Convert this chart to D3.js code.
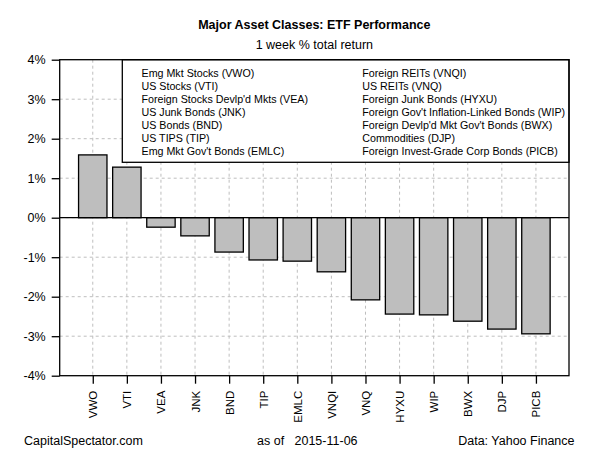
<!DOCTYPE html>
<html>
<head>
<meta charset="utf-8">
<script src="https://cdn.jsdelivr.net/npm/d3@7"></script>
<style>
  body { margin: 0; background: #fff; }
  text { font-family: Arial, "Liberation Sans", sans-serif; fill: #000; }
</style>
</head>
<body>
<script>
// tickers and 1 week % total return
var tickers = ["VWO", "VTI", "VEA", "JNK", "BND", "TIP", "EMLC",
               "VNQI", "VNQ", "HYXU", "WIP", "BWX", "DJP", "PICB"]
var returns = [1.59, 1.28, -0.24, -0.46, -0.87, -1.07, -1.10,
               -1.37, -2.08, -2.44, -2.46, -2.62, -2.82, -2.94]
var yTicks = [-4, -3, -2, -1, 0, 1, 2, 3, 4]
var legendLeft = ["Emg Mkt Stocks (VWO)", "US Stocks (VTI)", "Foreign Stocks Devlp'd Mkts (VEA)",
                  "US Junk Bonds (JNK)", "US Bonds (BND)", "US TIPS (TIP)", "Emg Mkt Gov't Bonds (EMLC)"]
var legendRight = ["Foreign REITs (VNQI)", "US REITs (VNQ)", "Foreign Junk Bonds (HYXU)",
                   "Foreign Gov't Inflation-Linked Bonds (WIP)", "Foreign Devlp'd Mkt Gov't Bonds (BWX)",
                   "Commodities (DJP)", "Foreign Invest-Grade Corp Bonds (PICB)"]

var W = 600, H = 450
// plot box (window.top is reserved, so no bare "top")
var plotL = 59.7, plotR = 569, plotT = 59.7, plotB = 375.7

var svg = d3.select("body").append("svg")
    .attr("width", W)
    .attr("height", H)

// R barplot style coordinates: bar i spans [0.2+1.2i, 1.2(i+1)]
var n = tickers.length
var x = d3.scaleLinear()
    .domain([0.2 - 0.04 * (1.2 * n - 0.2), 1.2 * n + 0.04 * (1.2 * n - 0.2)])
    .range([plotL, plotR])
var y = d3.scaleLinear().domain([-4, 4]).range([plotB, plotT])
var center = function(i) { return 1.2 * i + 0.7 }

// grid
var grid = svg.append("g")
    .style("stroke", "#bebebe")
    .style("stroke-dasharray", "3,3")
    .style("stroke-width", 1)
grid.selectAll(".hg").data(yTicks.slice(1, -1)).enter().append("line")
    .attr("x1", plotL).attr("x2", plotR)
    .attr("y1", function(d) { return y(d) }).attr("y2", function(d) { return y(d) })
grid.selectAll(".vg").data(tickers).enter().append("line")
    .attr("x1", function(d, i) { return x(center(i)) })
    .attr("x2", function(d, i) { return x(center(i)) })
    .attr("y1", plotT).attr("y2", plotB)

// bars
svg.selectAll(".bar").data(returns).enter().append("rect")
    .attr("class", "bar")
    .attr("x", function(d, i) { return x(center(i) - 0.5) })
    .attr("width", x(1) - x(0))
    .attr("y", function(d) { return y(Math.max(0, d)) })
    .attr("height", function(d) { return Math.abs(y(d) - y(0)) })
    .style("fill", "#bebebe")
    .style("stroke", "#000")
    .style("stroke-width", 1.3)

// zero line
svg.append("line")
    .attr("x1", plotL).attr("x2", plotR)
    .attr("y1", y(0)).attr("y2", y(0))
    .style("stroke", "#000").style("stroke-width", 1.3)

// legend box
var legX = 122.3, legB = 162.3
svg.append("rect")
    .attr("x", legX).attr("y", plotT)
    .attr("width", plotR - legX).attr("height", legB - plotT)
    .style("fill", "#fff").style("stroke", "#000").style("stroke-width", 1.3)
var legend = svg.append("g").style("font-size", "10.7px")
legend.selectAll(".ll").data(legendLeft).enter().append("text")
    .attr("x", 141.5)
    .attr("y", function(d, i) { return 77.3 + i * 13 })
    .text(function(d) { return d })
legend.selectAll(".lr").data(legendRight).enter().append("text")
    .attr("x", 362.3)
    .attr("y", function(d, i) { return 77.3 + i * 13 })
    .text(function(d) { return d })

// plot frame
svg.append("rect")
    .attr("x", plotL).attr("y", plotT)
    .attr("width", plotR - plotL).attr("height", plotB - plotT)
    .style("fill", "none").style("stroke", "#000").style("stroke-width", 1.3)

// y axis
var yAxis = svg.append("g")
    .attr("transform", "translate(" + plotL + ",0)")
    .call(d3.axisLeft(y).tickValues(yTicks).tickSize(8).tickPadding(6)
        .tickFormat(function(d) { return d + "%" }))
yAxis.select(".domain").remove()
yAxis.selectAll("line").style("stroke-width", 1.3)
yAxis.selectAll("text").style("font-size", "12.5px").style("font-family", "Arial, 'Liberation Sans', sans-serif")

// x axis, rotated labels
var xAxis = svg.append("g")
    .attr("transform", "translate(0," + plotB + ")")
    .call(d3.axisBottom(x).tickValues(tickers.map(function(d, i) { return center(i) }))
        .tickSize(8).tickFormat(function(d, i) { return tickers[i] }))
xAxis.select(".domain").remove()
xAxis.selectAll("line").style("stroke-width", 1.3)
xAxis.selectAll("text")
    .style("font-size", "11.5px")
    .style("font-family", "Arial, 'Liberation Sans', sans-serif")
    .style("text-anchor", "end")
    .attr("transform", "rotate(-90)")
    .attr("x", -15).attr("y", 0).attr("dy", "0.35em")

// titles
svg.append("text")
    .attr("x", (plotL + plotR) / 2).attr("y", 28.5)
    .attr("text-anchor", "middle")
    .style("font-weight", "bold").style("font-size", "12.5px")
    .text("Major Asset Classes: ETF Performance")
svg.append("text")
    .attr("x", (plotL + plotR) / 2).attr("y", 48.5)
    .attr("text-anchor", "middle")
    .style("font-size", "12.5px")
    .text("1 week % total return")

// footer
var foot = svg.append("g").style("font-size", "12.5px")
foot.append("text").attr("x", 24).attr("y", 445).text("CapitalSpectator.com")
foot.append("text").attr("x", 257).attr("y", 445).attr("xml:space", "preserve").text("as of   2015-11-06")
foot.append("text").attr("x", 574.5).attr("y", 445).attr("text-anchor", "end").text("Data: Yahoo Finance")
</script>
</body>
</html>
